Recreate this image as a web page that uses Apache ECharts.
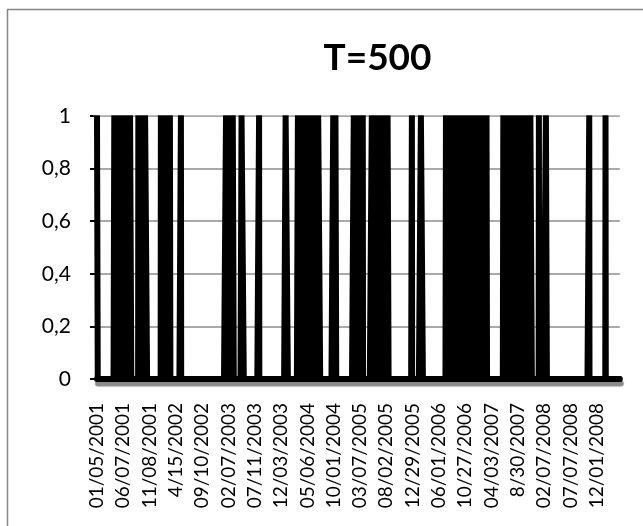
<!DOCTYPE html>
<html>
<head>
<meta charset="utf-8">
<script src="https://cdn.jsdelivr.net/npm/echarts@6/dist/echarts.min.js"></script>
<style>
  html, body { margin: 0; padding: 0; background: #fff; }
  #chart { width: 643px; height: 526px; }
</style>
</head>
<body>
<div id="chart"></div>
<script>
// Daily regime indicator (0/1), trading days from 01/05/2001 onward
const pointCount = 2088;
const pointsPerLabel = 105;

const tickLabels = [
  '01/05/2001', '06/07/2001', '11/08/2001', '4/15/2002', '09/10/2002',
  '02/07/2003', '07/11/2003', '12/03/2003', '05/06/2004', '10/01/2004',
  '03/07/2005', '08/02/2005', '12/29/2005', '06/01/2006', '10/27/2006',
  '04/03/2007', '8/30/2007', '02/07/2008', '07/07/2008', '12/01/2008'
];

// Runs of days where the indicator is 1 (first and last day index, inclusive)
const regimeStart = [0, 69, 165, 255, 335, 515, 577, 647, 753, 802, 943, 1025, 1097, 1257, 1293, 1393, 1622, 1764, 1792, 1965, 2030];
const regimeEnd   = [2, 136, 199, 292, 335, 545, 585, 647, 761, 890, 954, 1061, 1163, 1257, 1300, 1556, 1735, 1764, 1795, 1965, 2030];

const yTickStep = 0.2;

const values = new Array(pointCount).fill(0);
regimeStart.forEach(function (start, r) {
  for (let i = start; i <= regimeEnd[r]; i++) values[i] = 1;
});
const seriesData = values.map(function (v, i) { return [i, v]; });

const chart = echarts.init(document.getElementById('chart'), null, { renderer: 'canvas' });

chart.setOption({
  backgroundColor: '#fff',
  animation: false,
  grid: { left: 97, right: 23.2, top: 116, bottom: 147, containLabel: false },
  xAxis: {
    type: 'value',
    min: 0,
    max: pointCount - 1,
    interval: pointsPerLabel,
    splitLine: { show: false },
    axisTick: { show: false },
    // heavy baseline at 0 with a soft grey drop shadow underneath
    axisLine: {
      show: true,
      lineStyle: { color: '#000', width: 6, shadowColor: '#8a8a8a', shadowOffsetY: 4.5, shadowOffsetX: 1, shadowBlur: 1 }
    },
    axisLabel: {
      rotate: 90,
      margin: 24,
      fontSize: 19,
      fontFamily: 'Lato',
      color: '#000',
      formatter: function (v) {
        if (v % pointsPerLabel !== 0) return '';
        return tickLabels[v / pointsPerLabel] || '';
      }
    }
  },
  yAxis: {
    type: 'value',
    min: 0,
    max: 1,
    interval: yTickStep,
    axisLine: { show: true, lineStyle: { color: '#000', width: 2 } },
    axisTick: { show: true, length: 7, lineStyle: { color: '#000', width: 2 } },
    splitLine: { show: true, lineStyle: { color: '#8c8c8c', width: 1.5 } },
    axisLabel: {
      margin: 26,
      fontSize: 21,
      fontFamily: 'Lato',
      color: '#000',
      formatter: function (v) { return String(+v.toFixed(1)).replace('.', ','); }
    }
  },
  series: [{
    type: 'line',
    data: seriesData,
    showSymbol: false,
    symbol: 'none',
    lineStyle: { color: '#000', width: 6, join: 'round', cap: 'round' },
    areaStyle: { color: '#000', opacity: 1 },
    silent: true
  }],
  graphic: [
    {
      type: 'rect',
      z: 100,
      silent: true,
      shape: { x: 93, y: 100, width: 535, height: 15.2 },
      style: { fill: '#fff' }
    },
    {
      type: 'rect',
      z: 100,
      silent: true,
      shape: { x: 7.5, y: 9.5, width: 700, height: 600 },
      style: { fill: 'none', stroke: '#868686', lineWidth: 1.5 }
    },
    {
      type: 'text',
      z: 100,
      x: 377.5,
      y: 58,
      style: {
        text: 'T=500',
        font: 'bold 37px Lato',
        fill: '#000',
        align: 'center',
        verticalAlign: 'middle',
        textAlign: 'center',
        textVerticalAlign: 'middle'
      }
    }
  ]
});
</script>
</body>
</html>
